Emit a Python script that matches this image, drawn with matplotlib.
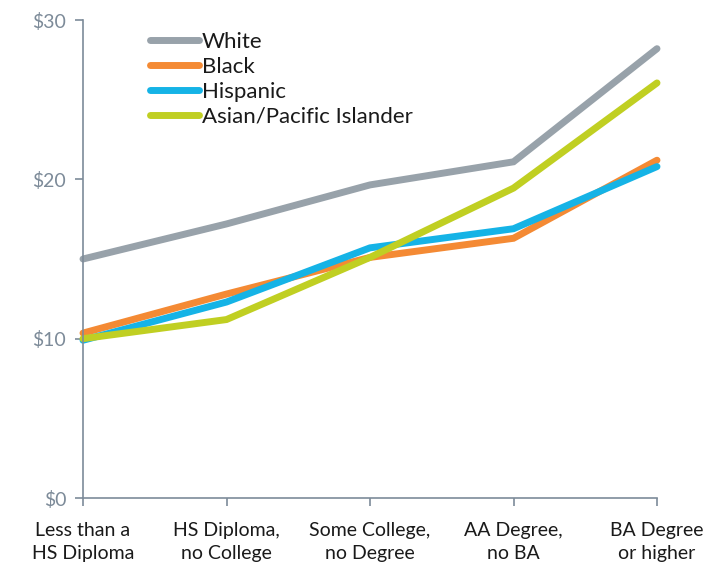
import matplotlib
matplotlib.use("Agg")
import matplotlib.pyplot as plt

categories = ["Less than a\nHS Diploma", "HS Diploma,\nno College", "Some College,\nno Degree",
              "AA Degree,\nno BA", "BA Degree\nor higher"]
series_names = ["White", "Black", "Hispanic", "Asian/Pacific Islander"]
white = [15.0, 17.2, 19.65, 21.1, 28.2]
black = [10.35, 12.8, 15.1, 16.3, 21.2]
hispanic = [9.9, 12.3, 15.7, 16.9, 20.8]
asian = [10.0, 11.2, 15.1, 19.45, 26.05]
yticks = [0, 10, 20, 30]
ytick_labels = ["$0", "$10", "$20", "$30"]

colors = ["#98a2aa", "#f48a34", "#15b3e6", "#c0cf22"]

plt.rcParams['font.family'] = ['Lato', 'DejaVu Sans']

fig = plt.figure(figsize=(7.19, 5.63), dpi=100)
ax = fig.add_axes([83/719, 1-498/563, (657-83)/719, (498-20)/563])

x = list(range(len(categories)))
for vals, name, c in zip([white, black, hispanic, asian], series_names, colors):
    ax.plot(x, vals, color=c, lw=5, solid_capstyle='round', solid_joinstyle='miter', label=name, clip_on=False)

ax.set_xlim(0, len(categories) - 1)
ax.set_ylim(0, 30)
ax.set_yticks(yticks)
ax.set_yticklabels(ytick_labels)
ax.set_xticks(x)
ax.set_xticklabels(categories, linespacing=1.45)

axcol = "#7d8b99"
for s in ["top", "right"]:
    ax.spines[s].set_visible(False)
for s in ["left", "bottom"]:
    ax.spines[s].set_color(axcol)
    ax.spines[s].set_linewidth(1.2)
ax.tick_params(axis='y', colors=axcol, labelcolor="#7d8b99", labelsize=14, length=6, width=1.2, pad=6)
ax.tick_params(axis='x', colors=axcol, labelcolor="#1a1a1a", labelsize=14, length=6, width=1.2, pad=11)

leg = ax.legend(loc='upper left', bbox_to_anchor=(150/719, 1-32/563), bbox_transform=fig.transFigure,
                frameon=False, fontsize=16, handlelength=2.2, handletextpad=0.12, labelspacing=0.22,
                borderpad=0, borderaxespad=0)
for t in leg.get_texts():
    t.set_color("#1a1a1a")

fig.savefig("out.png", dpi=100)
